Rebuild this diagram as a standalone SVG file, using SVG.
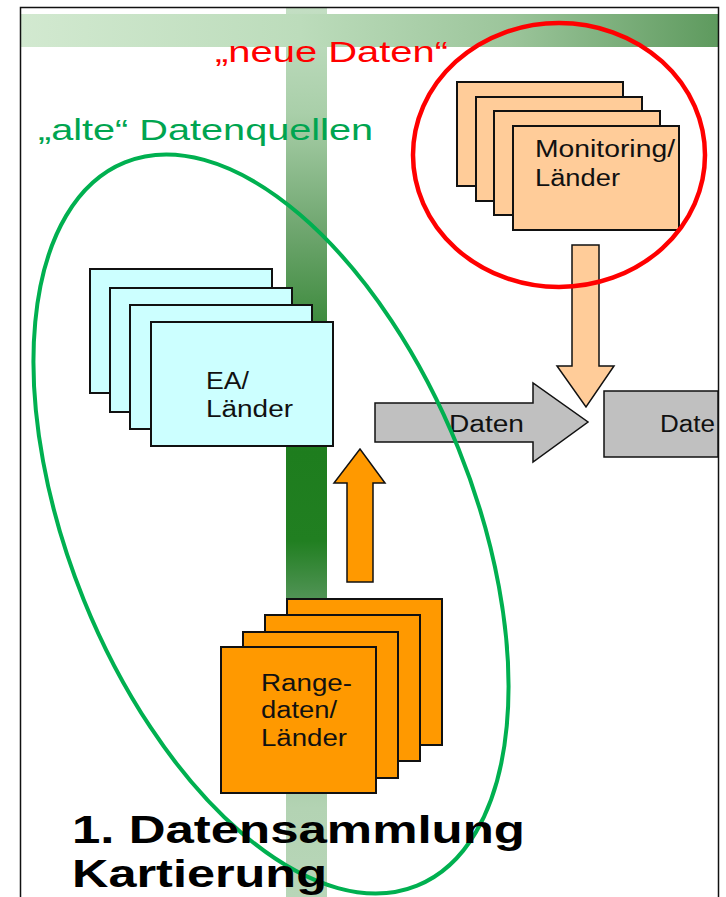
<svg xmlns="http://www.w3.org/2000/svg" width="726" height="897" viewBox="0 0 726 897">
<defs>
<linearGradient id="band" x1="0" y1="0" x2="1" y2="0">
<stop offset="0" stop-color="#d2e9d0"/>
<stop offset="0.4" stop-color="#bcdcbb"/>
<stop offset="0.7" stop-color="#9cc59b"/>
<stop offset="1" stop-color="#5e9a5e"/>
</linearGradient>
<linearGradient id="bar" x1="0" y1="0" x2="0" y2="1">
<stop offset="0" stop-color="#c4dfc4"/>
<stop offset="0.12" stop-color="#a9cfa9"/>
<stop offset="0.25" stop-color="#6fa66f"/>
<stop offset="0.36" stop-color="#3c8a3c"/>
<stop offset="0.5" stop-color="#1e7d1e"/>
<stop offset="0.6" stop-color="#217f21"/>
<stop offset="0.67" stop-color="#55955a"/>
<stop offset="0.8" stop-color="#9cc49c"/>
<stop offset="0.9" stop-color="#b3d3b3"/>
<stop offset="1" stop-color="#b8d6b8"/>
</linearGradient>
</defs>
<style>
.lbl{font-family:"Liberation Sans",Arial,sans-serif;font-size:23px;fill:#111}
.box{stroke:#111;stroke-width:2}
.mon{fill:#ffcc99}
.ea{fill:#ccffff}
.rng{fill:#ff9900}
.arr{stroke:#111;stroke-width:1.5;stroke-linejoin:miter}
.head{font-family:"Liberation Sans",Arial,sans-serif;font-size:29px}
.title{font-family:"Liberation Sans",Arial,sans-serif;font-size:39px;font-weight:bold;fill:#000}
</style>
<rect x="0" y="0" width="726" height="897" fill="#fff"/>
<g id="background">
<rect x="286" y="7" width="41" height="890" fill="url(#bar)"/>
<rect x="21" y="14" width="697" height="33" fill="url(#band)"/>
<rect x="20.5" y="7.5" width="698" height="900" fill="none" stroke="#111" stroke-width="1.5"/>
</g>
<g id="label-neue">
<text class="head" x="215" y="62" fill="#ff0000" textLength="233" lengthAdjust="spacingAndGlyphs">„neue Daten“</text>
</g>
<g id="label-alte">
<text class="head" x="38" y="140" fill="#00a550" textLength="335" lengthAdjust="spacingAndGlyphs">„alte“ Datenquellen</text>
</g>
<g id="monitoring">
<rect class="box mon" x="457" y="82" width="166" height="104"/>
<rect class="box mon" x="476" y="97" width="166" height="104"/>
<rect class="box mon" x="494" y="111" width="166" height="104"/>
<rect class="box mon" x="513" y="126" width="166" height="104"/>
<text class="lbl" x="535" y="157" textLength="140" lengthAdjust="spacingAndGlyphs">Monitoring/</text>
<text class="lbl" x="535" y="186" textLength="85" lengthAdjust="spacingAndGlyphs">Länder</text>
</g>
<g id="ea">
<rect class="box ea" x="90" y="269" width="182" height="124"/>
<rect class="box ea" x="110" y="288" width="182" height="124"/>
<rect class="box ea" x="130" y="305" width="182" height="124"/>
<rect class="box ea" x="151" y="322" width="182" height="124"/>
<text class="lbl" x="206" y="389" textLength="43" lengthAdjust="spacingAndGlyphs">EA/</text>
<text class="lbl" x="206" y="417" textLength="87" lengthAdjust="spacingAndGlyphs">Länder</text>
</g>
<g id="range">
<rect class="box rng" x="287" y="599" width="155" height="146"/>
<rect class="box rng" x="265" y="615" width="155" height="146"/>
<rect class="box rng" x="243" y="632" width="155" height="146"/>
<rect class="box rng" x="221" y="647" width="155" height="146"/>
<text class="lbl" x="261" y="691" textLength="91" lengthAdjust="spacingAndGlyphs">Range-</text>
<text class="lbl" x="261" y="718" textLength="76" lengthAdjust="spacingAndGlyphs">daten/</text>
<text class="lbl" x="261" y="746" textLength="86" lengthAdjust="spacingAndGlyphs">Länder</text>
</g>
<g id="daten-box">
<rect x="604" y="391" width="114" height="66" fill="#c0c0c0" stroke="#111" stroke-width="1.5"/>
<text class="lbl" x="660" y="432" textLength="55" lengthAdjust="spacingAndGlyphs">Date</text>
</g>
<g id="connectors">
<path class="arr" d="M375,403 L533,403 L533,383 L588,422 L533,462 L533,442 L375,442 Z" fill="#c0c0c0"/>
<text class="lbl" x="449" y="432" textLength="75" lengthAdjust="spacingAndGlyphs">Daten</text>
<path class="arr" d="M572,245 L599,245 L599,366 L614,366 L586,407 L557,366 L572,366 Z" fill="#ffcc99"/>
<path class="arr" d="M347,582 L347,483 L334,483 L360,449 L385,483 L373,483 L373,582 Z" fill="#ff9900"/>
</g>
<g id="group-alte">
<ellipse cx="271" cy="524" rx="202" ry="390" transform="rotate(-22 271 524)" fill="none" stroke="#00b050" stroke-width="4"/>
</g>
<g id="group-neue">
<ellipse cx="559" cy="155" rx="146" ry="132" fill="none" stroke="#ff0000" stroke-width="4.5"/>
</g>
<g id="title">
<text class="title" x="72" y="843" textLength="453" lengthAdjust="spacingAndGlyphs">1. Datensammlung</text>
<text class="title" x="72" y="887" textLength="255" lengthAdjust="spacingAndGlyphs">Kartierung</text>
</g>
</svg>
